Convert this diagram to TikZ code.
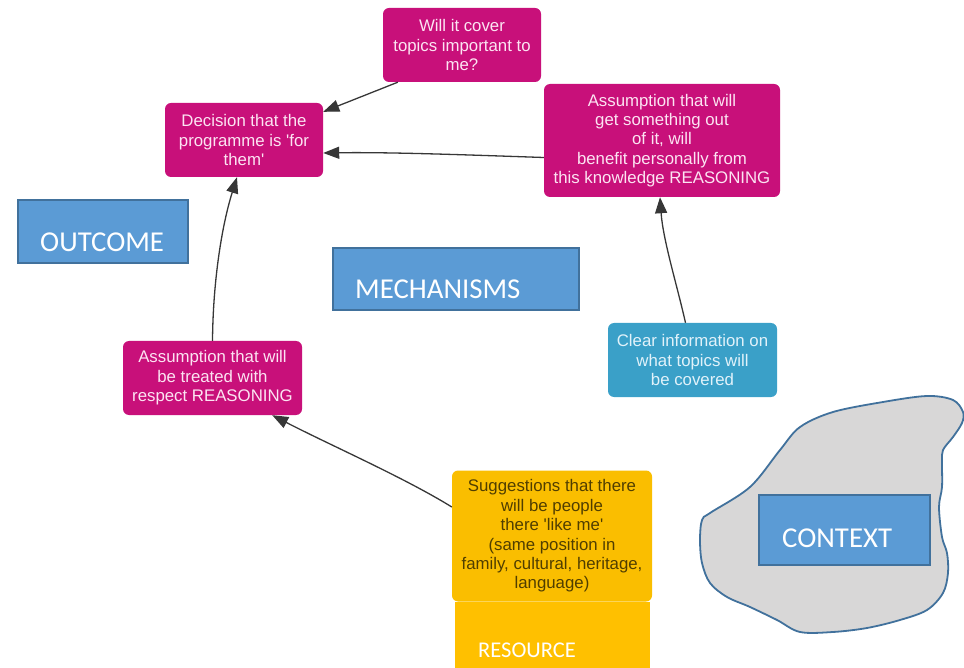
\documentclass[tikz,border=0pt]{standalone}
\usepackage{fontspec}
\setmainfont{Liberation Sans}
\newfontfamily\calibri{Carlito}
\usetikzlibrary{arrows.meta}

\definecolor{mag}{RGB}{200,16,122}
\definecolor{magtext}{RGB}{252,228,242}
\definecolor{teal}{RGB}{58,160,200}
\definecolor{tealtext}{RGB}{225,242,250}
\definecolor{amber}{RGB}{250,190,0}
\definecolor{ambertext}{RGB}{80,62,0}
\definecolor{resfill}{RGB}{255,192,0}
\definecolor{lblfill}{RGB}{91,155,213}
\definecolor{lbledge}{RGB}{65,113,156}
\definecolor{blobfill}{RGB}{216,215,215}
\definecolor{arrowgray}{RGB}{55,55,55}

\tikzset{
  card/.style={rounded corners=6pt, align=center, inner sep=0pt,
    font=\fontsize{16.8}{19.4}\selectfont},
  magcard/.style={card, fill=mag, text=magtext},
  tealcard/.style={card, fill=teal, text=tealtext},
  ambercard/.style={card, fill=amber, text=ambertext},
  lblbox/.style={draw=lbledge, fill=lblfill, line width=1.6pt, inner sep=0pt},
  lbltext/.style={text=white, font=\calibri\fontsize{28.8}{30}\selectfont, inner sep=0pt, anchor=base west},
  link/.style={draw=arrowgray, line width=1.3pt,
    -{Triangle[length=16pt,width=12pt]}},
}

\begin{document}
\begin{tikzpicture}[x=1pt,y=-1pt]
\useasboundingbox (0,0) rectangle (964,668);

% context region
\draw[fill=blobfill, draw=lbledge, line width=1.8pt] plot[smooth cycle, tension=0.55] coordinates {
  (710,513) (750,487) (780,450) (800,427) (833,412) (883,402) (927,396)
  (953,400) (963,412) (962,423) (953,437) (943,450) (942,462) (942,487)
  (939,507) (942,537) (947,553) (948,573) (943,593) (927,610) (900,620)
  (867,628) (833,632) (800,632) (777,620) (750,607) (727,597) (710,583)
  (702,563) (700,540) (702,520)};

% category labels
\node[lblbox, minimum width=170pt, minimum height=63pt] (outcome) at (103,231.5) {};
\node[lbltext] (outcometext) at (40,252) {OUTCOME};
\node[lblbox, minimum width=246pt, minimum height=62pt] (mech) at (456,279) {};
\node[lbltext] (mechtext) at (355,299) {MECHANISMS};
\node[lblbox, minimum width=171pt, minimum height=70pt] (context) at (844.5,530) {};
\node[lbltext] (contexttext) at (782,547) {CONTEXT};

% resource band
\node[fill=resfill, minimum width=195pt, minimum height=66pt, inner sep=0pt] (resource) at (552.5,635) {};
\node[text=white, font=\calibri\fontsize{22.5}{24}\selectfont, inner sep=0pt, anchor=base west] (resourcetext) at (478,657) {RESOURCE};

% cards
\node[magcard, minimum width=158pt, minimum height=74pt] (will) at (462,45) {Will it cover\\topics important to\\me?};
\node[magcard, minimum width=158pt, minimum height=74pt] (decision) at (244,140) {Decision that the\\programme is \textquotesingle for\\them\textquotesingle};
\node[magcard, minimum width=236pt, minimum height=113pt] (benefit) at (662,140.5) {Assumption that will\\get something out\\of it, will\\benefit personally from\\this knowledge REASONING};
\node[magcard, minimum width=179pt, minimum height=74pt] (respect) at (212.5,378) {Assumption that will\\be treated with\\respect REASONING};
\node[tealcard, minimum width=169pt, minimum height=74pt] (clear) at (692.5,360) {Clear information on\\what topics will\\be covered};
\node[ambercard, minimum width=200pt, minimum height=131pt] (suggest) at (552,536) {Suggestions that there\\will be people\\there \textquotesingle like me\textquotesingle\\(same position in\\family, cultural, heritage,\\language)};

% connectors
\draw[link] ([xshift=15pt]will.south west) -- ([yshift=-9pt]decision.north east);
\draw[link] ([yshift=-17pt]benefit.west) .. controls (470,155) and (390,152) .. ([yshift=-13pt]decision.east);
\draw[link] (respect.north) .. controls (213,280) and (222,225) .. ([xshift=-7pt]decision.south);
\draw[link] ([xshift=-7pt]clear.north) .. controls (677,285) and (663,240) .. ([xshift=-2pt]benefit.south);
\draw[link] ([yshift=29pt]suggest.west) .. controls (405,478) and (330,445) .. ([xshift=-30pt]respect.south east);
\end{tikzpicture}
\end{document}
